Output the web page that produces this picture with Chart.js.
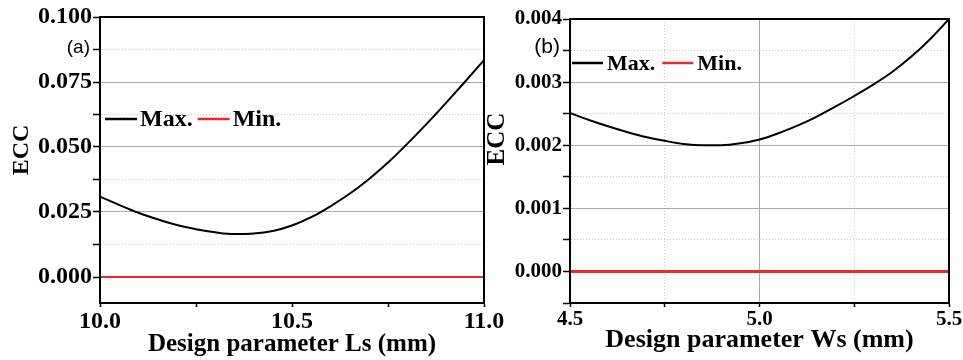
<!DOCTYPE html>
<html><head><meta charset="utf-8">
<script src="https://cdn.jsdelivr.net/npm/chart.js@4.4.1/dist/chart.umd.min.js"></script>
<style>
html,body{margin:0;padding:0;background:#fff;width:963px;height:360px;overflow:hidden}
#wrap{position:relative;width:963px;height:360px;background:#fff}
canvas{position:absolute;top:0}
#ca{left:0}
#cb{left:480px}
</style></head><body>
<div id="wrap"><canvas id="ca" width="510" height="360"></canvas><canvas id="cb" width="483" height="360"></canvas></div>
<script>
// ---------- data ----------
const seriesLabels = ['Max.', 'Min.'];
const panelTags = ['(a)', '(b)'];
const xTitles = ['Design parameter Ls (mm)', 'Design parameter Ws (mm)'];
const yTitle = 'ECC';

// Panel (a): Ls sweep
const lsValues = [10.00, 10.05, 10.10, 10.15, 10.20, 10.25, 10.30, 10.35, 10.40, 10.45, 10.50,
                  10.55, 10.60, 10.65, 10.70, 10.75, 10.80, 10.85, 10.90, 10.95, 11.00];
const eccMaxLs = [0.0309, 0.0277, 0.0247, 0.0222, 0.0200, 0.0184, 0.0172, 0.0165, 0.0167, 0.0177, 0.0198,
                  0.0230, 0.0272, 0.0320, 0.0376, 0.0440, 0.0512, 0.0588, 0.0668, 0.0750, 0.0834];
const eccMinLs = [0, 0, 0, 0, 0, 0, 0, 0, 0, 0, 0, 0, 0, 0, 0, 0, 0, 0, 0, 0, 0];

// Panel (b): Ws sweep
const wsValues = [4.50, 4.55, 4.60, 4.65, 4.70, 4.75, 4.80, 4.85, 4.90, 4.95, 5.00,
                  5.05, 5.10, 5.15, 5.20, 5.25, 5.30, 5.35, 5.40, 5.45, 5.50];
const eccMaxWs = [0.00251, 0.00240, 0.00230, 0.00221, 0.00213, 0.00207, 0.00202, 0.00200, 0.00200, 0.00203, 0.00209,
                  0.00219, 0.00231, 0.00245, 0.00261, 0.00278, 0.00296, 0.00316, 0.00340, 0.00368, 0.00400];
const eccMinWs = [0, 0, 0, 0, 0, 0, 0, 0, 0, 0, 0, 0, 0, 0, 0, 0, 0, 0, 0, 0, 0];

// Axis ranges / tick steps
const xAxisA = {min: 10.0, max: 11.0, step: 0.25, major: 0.5, decimals: 1};
const yAxisA = {min: -0.01, max: 0.1, step: 0.0125, major: 0.025, decimals: 3};
const xAxisB = {min: 4.5, max: 5.5, step: 0.25, major: 0.5, decimals: 1};
const yAxisB = {min: -0.0005, max: 0.004, step: 0.0005, major: 0.001, decimals: 3};

// ---------- helpers ----------
const SERIF = "'Liberation Serif', 'Times New Roman', serif";
const SANS = "'Liberation Sans', Arial, sans-serif";
const RED = '#e52b2b';
function isMultiple(v, step) { const r = v / step; return Math.abs(r - Math.round(r)) < 1e-6; }
function gridColor(major) {
  return ctx => (ctx.tick && isMultiple(ctx.tick.value, major)) ? '#a9a9a9' : '#c9c9c9';
}
function gridDash(major) {
  return ctx => (ctx.tick && !isMultiple(ctx.tick.value, major)) ? [1, 2] : [];
}
function pts(xs, ys) { return xs.map((x, i) => ({x: x, y: ys[i]})); }

const decor = {
  id: 'decor',
  afterDatasetsDraw(chart, args, o) {
    const {ctx, chartArea: a} = chart;
    ctx.save();
    ctx.strokeStyle = '#000';
    ctx.lineWidth = 2;
    ctx.strokeRect(a.left, a.top, a.right - a.left, a.bottom - a.top);
    ctx.restore();
  },
  afterDraw(chart, args, o) {
    const {ctx, chartArea: a} = chart;
    ctx.save();
    // panel tag
    ctx.fillStyle = '#000';
    ctx.font = o.tagFont;
    ctx.textAlign = 'right';
    ctx.textBaseline = 'middle';
    ctx.fillText(o.tag, a.left + o.tagDx, a.top + o.tagDy);
    // y title
    ctx.save();
    ctx.font = o.yTitleFont;
    ctx.textAlign = 'center';
    ctx.textBaseline = 'middle';
    ctx.translate(a.left + o.yTitleDx, a.top + o.yTitleDy);
    ctx.rotate(-Math.PI / 2);
    ctx.fillText(o.yTitle, 0, 0);
    ctx.restore();
    // legend
    ctx.font = o.legendFont;
    ctx.textAlign = 'left';
    ctx.textBaseline = 'middle';
    let x = a.left + o.legendDx;
    const y = a.top + o.legendDy;
    chart.data.datasets.forEach(ds => {
      ctx.strokeStyle = ds.borderColor;
      ctx.lineWidth = o.sampleWidth;
      ctx.beginPath();
      ctx.moveTo(x, y);
      ctx.lineTo(x + o.sample, y);
      ctx.stroke();
      x += o.sample + o.gap;
      ctx.fillStyle = '#000';
      ctx.fillText(ds.label, x, y + 1);
      x += ctx.measureText(ds.label).width + o.itemGap;
    });
    ctx.restore();
  }
};

function makeChart(id, xs, maxYs, minYs, xr, yr, opt) {
  return new Chart(document.getElementById(id), {
    type: 'line',
    data: {
      datasets: [
        {label: seriesLabels[0], data: pts(xs, maxYs), borderColor: '#000', borderWidth: 2,
         pointRadius: 0, cubicInterpolationMode: 'monotone', fill: false},
        {label: seriesLabels[1], data: pts(xs, minYs), borderColor: RED, borderWidth: opt.redWidth,
         pointRadius: 0, tension: 0, fill: false}
      ]
    },
    options: {
      responsive: false, animation: false, devicePixelRatio: 1,
      layout: {padding: {left: 0, top: opt.padTop, right: opt.padRight, bottom: 0}},
      plugins: {legend: {display: false}, tooltip: {enabled: false}, decor: opt.decor},
      scales: {
        x: {
          type: 'linear', min: xr.min, max: xr.max,
          ticks: {stepSize: xr.step, autoSkip: false, maxRotation: 0, minRotation: 0, color: '#000',
                  padding: opt.xTickPad, includeBounds: false,
                  font: {family: SERIF, weight: 'bold', size: opt.tickSize},
                  callback: v => isMultiple(v, xr.major) ? v.toFixed(xr.decimals) : ''},
          afterBuildTicks: s => { s.ticks = s.ticks.filter(t => isMultiple(t.value, xr.step)); },
          grid: {drawOnChartArea: opt.xGrid, color: gridColor(xr.major), lineWidth: 1,
                 tickColor: '#000', tickLength: 4, tickWidth: 1.5},
          border: {display: true, color: '#000', width: 2, dash: gridDash(xr.major)},
          title: {display: true, text: opt.xTitle, color: '#000',
                  font: {family: SERIF, weight: 'bold', size: opt.xTitleSize},
                  padding: {top: 0, bottom: opt.xTitlePadBottom}},
          afterFit: s => { s.height = 57; s.paddingLeft = 0; s.paddingRight = 0; }
        },
        y: {
          type: 'linear', min: yr.min, max: yr.max,
          ticks: {stepSize: yr.step, autoSkip: false, color: '#000', padding: 1, includeBounds: false,
                  font: {family: SERIF, weight: 'bold', size: opt.tickSize},
                  callback: v => isMultiple(v, yr.major) ? v.toFixed(yr.decimals) : ''},
          afterBuildTicks: s => { s.ticks = s.ticks.filter(t => isMultiple(t.value, yr.step)); },
          grid: {color: gridColor(yr.major), lineWidth: 1, tickColor: '#000', tickLength: 7, tickWidth: 1.5},
          border: {display: true, color: '#000', width: 2, dash: gridDash(yr.major)},
          afterFit: s => { s.width = opt.yWidth; s.paddingTop = 0; s.paddingBottom = 0; }
        }
      }
    },
    plugins: [decor]
  });
}

makeChart('ca', lsValues, eccMaxLs, eccMinLs, xAxisA, yAxisA, {
  padTop: 17, padRight: 26, yWidth: 100, tickSize: 24, xTickPad: 0, xGrid: false,
  xTitle: xTitles[0], xTitleSize: 25, xTitlePadBottom: 0, redWidth: 2,
  decor: {tag: panelTags[0], tagFont: '19px ' + SANS, tagDx: -10, tagDy: 31,
          yTitle: yTitle, yTitleFont: 'bold 24px ' + SERIF, yTitleDx: -78, yTitleDy: 133,
          legendFont: 'bold 24px ' + SERIF, legendDx: 5, legendDy: 102,
          sample: 32, gap: 3, itemGap: 5, sampleWidth: 2.5}
});

makeChart('cb', wsValues, eccMaxWs, eccMinWs, xAxisB, yAxisB, {
  padTop: 19, padRight: 14, yWidth: 90, tickSize: 21, xTickPad: 0, xGrid: true,
  xTitle: xTitles[1], xTitleSize: 26, xTitlePadBottom: 4, redWidth: 3,
  decor: {tag: panelTags[1], tagFont: '21px ' + SANS, tagDx: -10, tagDy: 28,
          yTitle: yTitle, yTitleFont: 'bold 25px ' + SERIF, yTitleDx: -72, yTitleDy: 120,
          legendFont: 'bold 22px ' + SERIF, legendDx: 2, legendDy: 44,
          sample: 31, gap: 4, itemGap: 7, sampleWidth: 2.5}
});
</script>
</body></html>
